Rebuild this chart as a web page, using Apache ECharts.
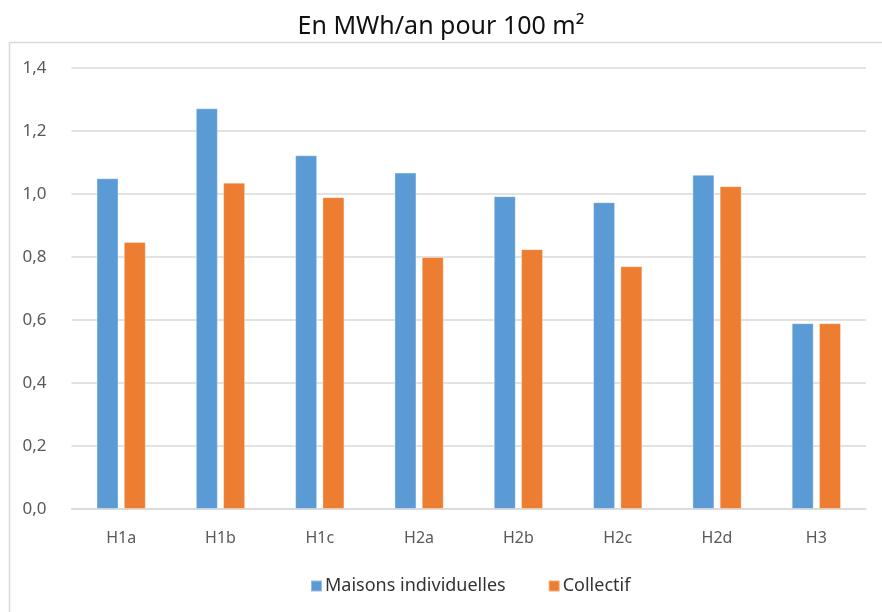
<!DOCTYPE html>
<html>
<head>
<meta charset="utf-8">
<script src="https://cdn.jsdelivr.net/npm/echarts@6/dist/echarts.min.js"></script>
<style>
  html, body { margin: 0; padding: 0; background: #fff; }
  #chart { width: 882px; height: 612px; }
</style>
</head>
<body>
<div id="chart"></div>
<script>
// zones climatiques
const categories = ["H1a", "H1b", "H1c", "H2a", "H2b", "H2c", "H2d", "H3"];
const maisons = [1.05, 1.272, 1.123, 1.068, 0.993, 0.974, 1.061, 0.59];
const collectif = [0.848, 1.036, 0.99, 0.80, 0.825, 0.771, 1.025, 0.59];
const yTicks = [0, 0.2, 0.4, 0.6, 0.8, 1.0, 1.2, 1.4];

const labelColor = "#595959";
const gridColor = "#d9d9d9";

const chart = echarts.init(document.getElementById("chart"));

chart.setOption({
  animation: false,
  textStyle: { fontFamily: "Noto Sans" },
  title: {
    text: "En MWh/an pour 100 m²",
    left: 436, top: 9,
    textAlign: "center",
    textStyle: { fontFamily: "Noto Sans", fontSize: 25, fontWeight: "normal", color: "#111" },
  },
  graphic: [
    {
      type: "rect", z: -1, silent: true,
      shape: { x: 9.5, y: 42.5, width: 900, height: 600 },
      style: { fill: "#fff", stroke: gridColor, lineWidth: 1.5 },
    },
  ],
  legend: {
    data: ["Maisons individuelles", "Collectif"],
    top: 572, left: 305,
    itemWidth: 11, itemHeight: 11, itemGap: 42,
    icon: "rect",
    textStyle: { fontSize: 18, color: "#333", padding: [0, 0, 0, -2] },
  },
  grid: { left: 71.5, right: 16, top: 68, bottom: 103, containLabel: false },
  xAxis: {
    type: "category",
    data: categories,
    axisTick: { show: false },
    axisLine: { lineStyle: { color: gridColor, width: 1.5 } },
    axisLabel: { color: labelColor, fontSize: 16, margin: 21 },
  },
  yAxis: {
    type: "value",
    min: 0, max: 1.4, interval: 0.2,
    axisLine: { show: false },
    axisTick: { show: false },
    splitLine: { lineStyle: { color: gridColor, width: 1.5 } },
    axisLabel: {
      color: labelColor, fontSize: 17, margin: 25,
      formatter: v => {
        const t = yTicks.find(x => Math.abs(x - v) < 1e-6);
        return (t !== undefined ? t : v).toFixed(1).replace(".", ",");
      },
    },
  },
  series: [
    {
      name: "Maisons individuelles",
      type: "bar",
      data: maisons,
      barWidth: 22,
      barGap: "24%",
      itemStyle: { color: "#5b9bd5", borderColor: "rgba(255,255,255,0.35)", borderWidth: 1 },
    },
    {
      name: "Collectif",
      type: "bar",
      data: collectif,
      barWidth: 22,
      itemStyle: { color: "#ed7d31", borderColor: "rgba(255,255,255,0.35)", borderWidth: 1 },
    },
  ],
});
</script>
</body>
</html>
